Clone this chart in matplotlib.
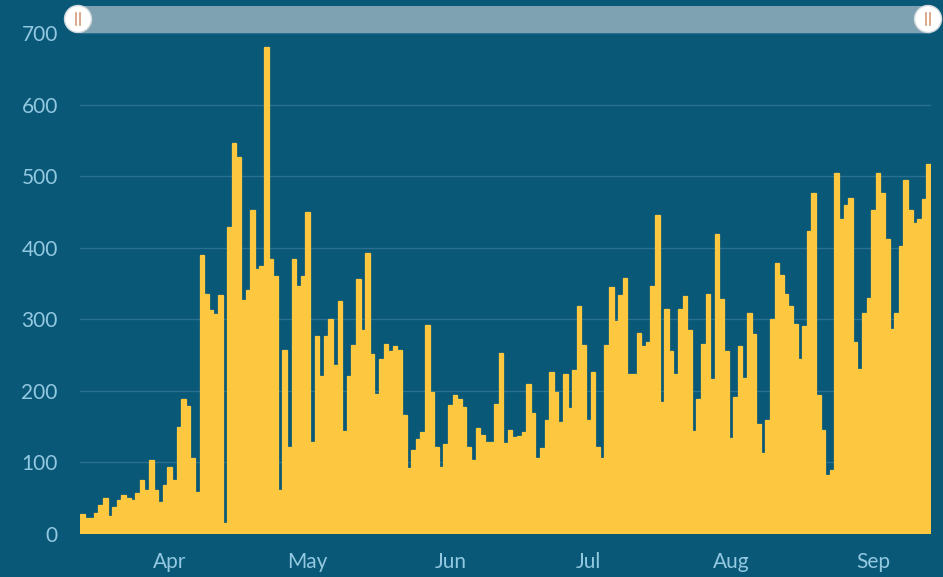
import matplotlib
matplotlib.use("Agg")
import matplotlib.pyplot as plt
from matplotlib.patches import Circle, FancyBboxPatch
import pandas as pd

start_date = "2020-03-13"
values = [
    28, 22, 22, 29, 41, 50, 25, 38, 48, 54,
    50, 48, 57, 75, 61, 103, 61, 45, 68, 93,
    75, 149, 188, 179, 106, 58, 390, 336, 313, 307,
    334, 16, 429, 546, 527, 327, 341, 453, 370, 375,
    681, 384, 360, 61, 257, 122, 384, 346, 360, 450,
    129, 277, 221, 276, 301, 236, 326, 144, 221, 264,
    356, 285, 393, 251, 195, 244, 265, 256, 262, 257,
    166, 92, 117, 133, 143, 292, 199, 122, 94, 126,
    180, 194, 188, 178, 122, 104, 148, 138, 128, 128,
    181, 253, 127, 146, 136, 137, 143, 210, 169, 106,
    120, 159, 226, 199, 157, 224, 176, 229, 319, 264,
    159, 227, 122, 106, 264, 345, 298, 334, 357, 224,
    224, 281, 263, 268, 347, 446, 185, 314, 256, 224,
    315, 333, 285, 144, 189, 266, 336, 216, 419, 329,
    255, 134, 192, 262, 218, 309, 280, 154, 113, 159,
    301, 378, 362, 336, 319, 294, 244, 290, 424, 476,
    194, 146, 82, 89, 504, 440, 460, 470, 268, 230,
    309, 330, 453, 504, 476, 412, 287, 309, 403, 494,
    453, 434, 440, 468, 517,
]
dates = pd.date_range(start_date, periods=len(values), freq="D")
y_ticks = [0, 100, 200, 300, 400, 500, 600, 700]
month_ticks = pd.to_datetime(["2020-04-01", "2020-05-01", "2020-06-01",
                              "2020-07-01", "2020-08-01", "2020-09-01"])
month_labels = ["Apr", "May", "Jun", "Jul", "Aug", "Sep"]

BG = "#0a5878"
BAR = "#fdc840"
TXT = "#92c8e0"
GRID = "#2a7090"

W, H = 943, 577
fig = plt.figure(figsize=(W / 100, H / 100), dpi=100, facecolor=BG)
ax = fig.add_axes([80 / W, 43 / H, 851 / W, 501 / H])
ax.set_facecolor(BG)

ax.bar(dates, values, width=1.0, color=BAR, edgecolor=BAR, linewidth=0.9,
       align="center", zorder=3)

ax.set_xlim(dates[0] - pd.Timedelta(hours=12), dates[-1] + pd.Timedelta(hours=12))
ax.set_ylim(0, 700)
ax.set_yticks(y_ticks)
ax.set_yticklabels([str(v) for v in y_ticks])
ax.set_xticks(month_ticks)
ax.set_xticklabels(month_labels)

for v in y_ticks[1:]:
    ax.axhline(v, color=GRID, linewidth=0.9, zorder=1)

for s in ax.spines.values():
    s.set_visible(False)
ax.tick_params(axis="both", length=0, colors=TXT, labelsize=15)
ax.tick_params(axis="y", pad=16)
ax.tick_params(axis="x", pad=13)
for lab in ax.get_xticklabels() + ax.get_yticklabels():
    lab.set_fontfamily("Lato")
    lab.set_color(TXT)

# range slider overlay
ov = fig.add_axes([0, 0, 1, 1], facecolor="none")
ov.set_xlim(0, W)
ov.set_ylim(H, 0)
ov.axis("off")
ov.add_patch(FancyBboxPatch((78, 6), 850, 27,
                            boxstyle="round,pad=0,rounding_size=3",
                            facecolor="#7fa2b2", edgecolor="none"))
for cx in (78, 928):
    ov.add_patch(Circle((cx, 19), 13.5, facecolor="white",
                        edgecolor="#d0d8dc", linewidth=1.0, zorder=5))
    ov.plot([cx - 2.2, cx - 2.2], [13, 25], color="#d49a78", linewidth=1.2, zorder=6)
    ov.plot([cx + 2.2, cx + 2.2], [13, 25], color="#d49a78", linewidth=1.2, zorder=6)

fig.savefig("out.png", dpi=100, facecolor=BG)
